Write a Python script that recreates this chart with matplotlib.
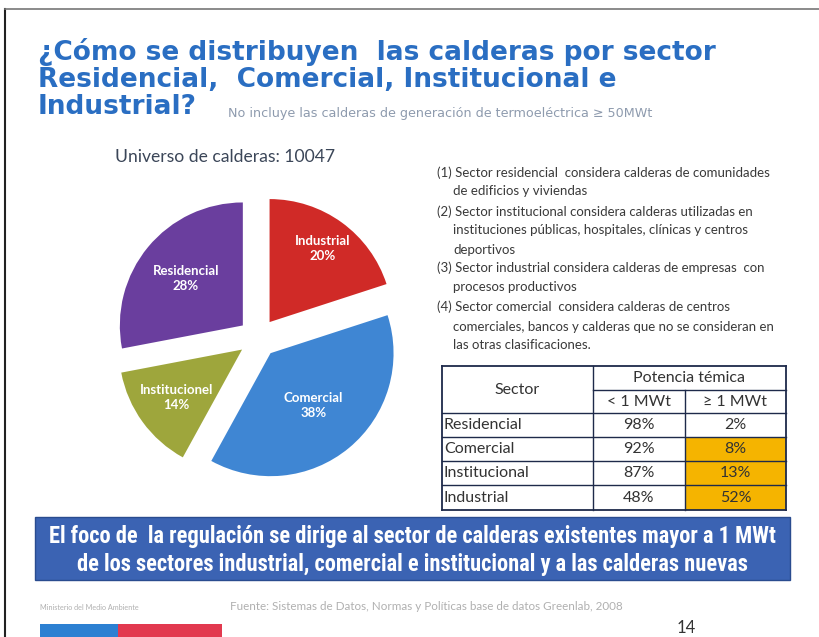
import matplotlib
matplotlib.use("Agg")
import matplotlib.pyplot as plt
from matplotlib import font_manager
from matplotlib.patches import Rectangle
import numpy as np

# ---------------- data ----------------
sectors = ["Industrial", "Comercial", "Institucional", "Residencial"]
pie_labels = ["Industrial", "Comercial", "Institucionel", "Residencial"]
shares = [20, 38, 14, 28]
pie_colors = ["#D02A27", "#3F86D3", "#9EA63C", "#6A3E9E"]

table_sectors = ["Residencial", "Comercial", "Institucional", "Industrial"]
below_1mw = ["98%", "92%", "87%", "48%"]
above_1mw = ["2%", "8%", "13%", "52%"]
highlight = [False, True, True, True]

title_lines = ["¿Cómo se distribuyen  las calderas por sector",
               "Residencial,  Comercial, Institucional e",
               "Industrial?"]
subtitle = "No incluye las calderas de generación de termoeléctrica ≥ 50MWt"
universe = "Universo de calderas: 10047"
notes = [
    ("(1) Sector residencial  considera calderas de comunidades", False),
    ("de edificios y viviendas", True),
    ("(2) Sector institucional considera calderas utilizadas en", False),
    ("instituciones públicas, hospitales, clínicas y centros", True),
    ("deportivos", True),
    ("(3) Sector industrial considera calderas de empresas  con", False),
    ("procesos productivos", True),
    ("(4) Sector comercial  considera calderas de centros", False),
    ("comerciales, bancos y calderas que no se consideran en", True),
    ("las otras clasificaciones.", True),
]
banner_lines = ["El foco de  la regulación se dirige al sector de calderas existentes mayor a 1 MWt",
                "de los sectores industrial, comercial e institucional y a las calderas nuevas"]
footer_left = "Ministerio del Medio Ambiente"
footer_src = "Fuente: Sistemas de Datos, Normas y Políticas base de datos Greenlab, 2008"
page_no = "14"

# ---------------- fonts ----------------
available = {f.name for f in font_manager.fontManager.ttflist}
narrow_candidates = ["Liberation Sans Narrow", "Roboto Condensed", "Open Sans Condensed",
                     "Noto Sans Condensed", "DejaVu Sans Condensed", "Arial Narrow"]
NARROW = [n for n in narrow_candidates if n in available][:1]
FONT = ["Lato", "DejaVu Sans"]
NFONT = NARROW + FONT
WIDE = ["DejaVu Sans"]

# ---------------- figure ----------------
W, H = 820, 637
fig = plt.figure(figsize=(W / 100, H / 100), dpi=100)
fig.patch.set_facecolor("white")
renderer = fig.canvas.get_renderer()


def fx(x):
    return x / W


def fy(y):
    return 1 - y / H


def txt(x, y, s, size, color, weight="normal", ha="left", va="baseline", width=None,
        family=FONT, maxsize=None):
    t = fig.text(fx(x), fy(y), s, fontsize=size, color=color, fontweight=weight,
                 ha=ha, va=va, family=family)
    if width is not None:
        bb = t.get_window_extent(renderer)
        new = size * width / bb.width
        if maxsize is not None:
            new = min(new, maxsize)
        t.set_fontsize(new)
    return t


# slide border
fig.add_artist(plt.Line2D([fx(5), fx(5)], [fy(9), fy(637)], color="#222222", lw=1.5))
fig.add_artist(plt.Line2D([fx(5), fx(820)], [fy(9), fy(9)], color="#777777", lw=1.2))

# title
title_color = "#2A6EC2"
t1 = txt(38, 60, title_lines[0], 18, title_color, weight="bold", width=702, family=WIDE,
         maxsize=19)
tsize = t1.get_fontsize()
txt(38, 87, title_lines[1], tsize, title_color, weight="bold", family=WIDE)
txt(38, 114, title_lines[2], tsize, title_color, weight="bold", family=WIDE)
txt(228, 117, subtitle, 8, "#8E9BAE", family=WIDE, width=492, maxsize=9.2)

# universe
txt(115, 162, universe, 11, "#3B4658", width=220)

# ---------------- pie ----------------
cx, cy, R = 258, 338, 123
half = 1.5
label_r = [0.74, 0.55, 0.66, 0.6]
ax = fig.add_axes([fx(cx - R * half), 1 - (cy + R * half) / H, 2 * R * half / W, 2 * R * half / H])
wedges, texts = ax.pie(shares, labels=[f"{l}\n{v}%" for l, v in zip(pie_labels, shares)],
                       colors=pie_colors, startangle=90, counterclock=False,
                       explode=[0.16] * 4, labeldistance=0.66,
                       wedgeprops=dict(linewidth=0),
                       textprops=dict(color="white", fontweight="bold", fontsize=9.5,
                                      family=FONT))
for w, t, d in zip(wedges, texts, label_r):
    mid = np.deg2rad((w.theta1 + w.theta2) / 2)
    t.set_position((w.center[0] + d * w.r * np.cos(mid), w.center[1] + d * w.r * np.sin(mid)))
    t.set_ha("center")
    t.set_va("center")
    t.set_linespacing(1.35)
ax.set_xlim(-half, half)
ax.set_ylim(-half, half)
ax.set_aspect("equal")
ax.axis("off")

# ---------------- notes ----------------
note_y = [173, 191, 212, 230, 250, 268, 287, 307, 327, 345]
n0 = txt(437, note_y[0], notes[0][0], 8, "#3A3A3A", va="center", width=363, maxsize=9.5)
nsize = n0.get_fontsize()
for (s, indent), y in list(zip(notes, note_y))[1:]:
    txt(453 if indent else 437, y, s, nsize, "#3A3A3A", va="center")

# ---------------- table ----------------
tx0, tx1, tx2, tx3 = 442, 593, 685, 786
row_y = [366, 390, 413, 437, 461, 485, 510]
line_c = "#1E2A4A"


def hline(x0, x1, y, lw=1.0):
    fig.add_artist(plt.Line2D([fx(x0), fx(x1)], [fy(y), fy(y)], color=line_c, lw=lw))


def vline(x, y0, y1, lw=1.0):
    fig.add_artist(plt.Line2D([fx(x), fx(x)], [fy(y0), fy(y1)], color=line_c, lw=lw))


for i, hl in enumerate(highlight):
    if hl:
        y0, y1 = row_y[2 + i], row_y[3 + i]
        fig.add_artist(Rectangle((fx(tx2), fy(y1)), fx(tx3 - tx2), (y1 - y0) / H,
                                 facecolor="#F5B400", edgecolor="none"))

hline(tx0, tx3, row_y[0], 1.3)
hline(tx1, tx3, row_y[1])
for y in row_y[2:-1]:
    hline(tx0, tx3, y)
hline(tx0, tx3, row_y[-1], 1.3)
vline(tx0, row_y[0], row_y[-1], 1.3)
vline(tx3, row_y[0], row_y[-1], 1.3)
vline(tx1, row_y[0], row_y[-1])
vline(tx2, row_y[1], row_y[-1])

tcol = "#333333"
ts = 11.5
txt((tx0 + tx1) / 2, (row_y[0] + row_y[2]) / 2, "Sector", ts, tcol, ha="center", va="center")
txt((tx1 + tx3) / 2, (row_y[0] + row_y[1]) / 2, "Potencia témica", ts, tcol, ha="center", va="center")
txt((tx1 + tx2) / 2, (row_y[1] + row_y[2]) / 2, "< 1 MWt", ts, tcol, ha="center", va="center")
txt((tx2 + tx3) / 2, (row_y[1] + row_y[2]) / 2, "≥ 1 MWt", ts, tcol, ha="center", va="center")
for i, (s, a, b) in enumerate(zip(table_sectors, below_1mw, above_1mw)):
    yc = (row_y[2 + i] + row_y[3 + i]) / 2
    txt(tx0 + 2, yc, s, ts, tcol, va="center")
    txt((tx1 + tx2) / 2, yc, a, ts, tcol, ha="center", va="center")
    txt((tx2 + tx3) / 2, yc, b, ts, tcol, ha="center", va="center")

# ---------------- banner ----------------
fig.add_artist(Rectangle((fx(35), fy(580)), fx(755), 63 / H, facecolor="#3B63B3",
                         edgecolor="#2A4C8F", lw=1))
b1 = txt(412, 536, banner_lines[0], 14, "white", weight="bold", ha="center", va="center",
         width=736, family=NFONT, maxsize=16.5)
txt(412, 564, banner_lines[1], b1.get_fontsize(), "white", weight="bold", ha="center",
    va="center", family=NFONT)

# ---------------- footer ----------------
txt(40, 607, footer_left, 5, "#B0B0B0", va="center", width=100)
txt(230, 607, footer_src, 5, "#B0B0B0", va="center", width=395)
txt(686, 628, page_no, 12, "#333333", ha="center", va="center")
fig.add_artist(Rectangle((fx(40), 0), fx(78), 13 / H, facecolor="#2C80D2", edgecolor="none"))
fig.add_artist(Rectangle((fx(118), 0), fx(104), 13 / H, facecolor="#E2394F", edgecolor="none"))

fig.savefig("out.png", dpi=100, facecolor="white")
